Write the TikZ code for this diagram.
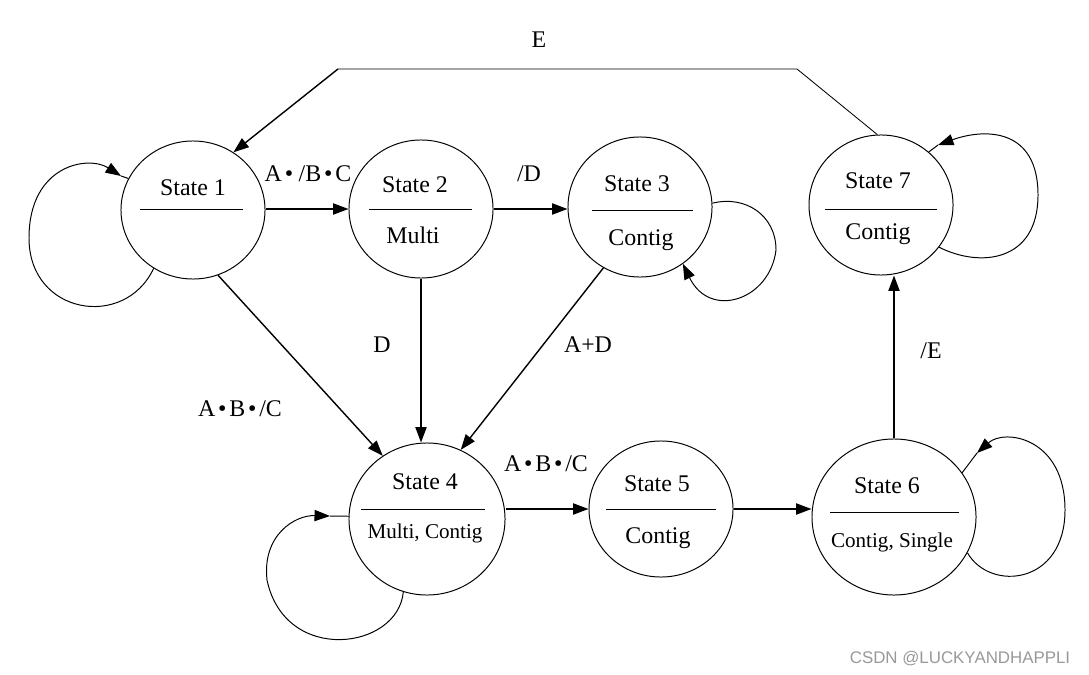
\documentclass[tikz,border=0pt]{standalone}
\usepackage{fontspec}
\setmainfont{Liberation Serif}
\newfontfamily\wmfont{Liberation Sans}
\usetikzlibrary{shapes.geometric,arrows.meta}

\newcommand{\bul}{\kern2pt•\kern2pt}

\begin{document}
\begin{tikzpicture}[x=0.025cm, y=-0.025cm, line join=round,
    >={Triangle[length=11pt,width=8pt]},
    stnode/.style={ellipse, draw, line width=0.7pt, inner sep=0pt},
    sttext/.style={anchor=base, inner sep=0pt, font=\fontsize{17}{20}\selectfont},
    stsmall/.style={anchor=base, inner sep=0pt, font=\fontsize{15}{18}\selectfont},
    edgelbl/.style={anchor=base, inner sep=0pt, font=\fontsize{17}{20}\selectfont},
    arr/.style={->, line width=1pt},
    loopline/.style={line width=0.7pt}]
    \useasboundingbox (0,0) rectangle (1089,675);

    % States
    \node[stnode, minimum width=3.6cm, minimum height=3.45cm] (s1) at (193,210) {};
    \node[stnode, minimum width=3.6cm, minimum height=3.45cm] (s2) at (421,209) {};
    \node[stnode, minimum width=3.6cm, minimum height=3.5cm] (s3) at (640,207) {};
    \node[stnode, minimum width=3.6cm, minimum height=3.5cm] (s7) at (881,205) {};
    \node[stnode, minimum width=3.9cm, minimum height=3.8cm] (s4) at (427,519) {};
    \node[stnode, minimum width=3.6cm, minimum height=3.4cm] (s5) at (661,509) {};
    \node[stnode, minimum width=4.1cm, minimum height=3.9cm] (s6) at (894,517) {};

    % Texts and dividers inside the states
    \node[sttext] (t1) at (193,196) {State 1};
    \draw[line width=0.7pt] (140,209) -- (243,209);

    \node[sttext] (t2) at (415,193) {State 2};
    \draw[line width=0.7pt] (369,209) -- (472,209);
    \node[sttext] (b2) at (413,244) {Multi};

    \node[sttext] (t3) at (637,192) {State 3};
    \draw[line width=0.7pt] (592,210) -- (693,210);
    \node[sttext] (b3) at (641,245) {Contig};

    \node[sttext] (t7) at (878,189) {State 7};
    \draw[line width=0.7pt] (825,209) -- (937,209);
    \node[sttext] (b7) at (878,240) {Contig};

    \node[sttext] (t4) at (425,489) {State 4};
    \draw[line width=0.7pt] (361,509) -- (485,509);
    \node[stsmall] (b4) at (425,538) {Multi, Contig};

    \node[sttext] (t5) at (657,491) {State 5};
    \draw[line width=0.7pt] (606,509) -- (716,509);
    \node[sttext] (b5) at (658,543) {Contig};

    \node[sttext] (t6) at (887,493) {State 6};
    \draw[line width=0.7pt] (830,512) -- (959,512);
    \node[stsmall] (b6) at (892,547) {Contig, Single};

    % Transitions between states
    \draw[arr] (s1.east |- s2.west) -- (s2.west);
    \draw[arr] (s2.east) -- (s2.east -| s3.west);
    \draw[arr] (s2.south) -- (s2.south |- s4.north);
    \draw[arr] (s1.-69) -- (s4.125);
    \draw[arr] (s3.239) -- (s4.64);
    \draw[arr] (s5.west -| s4.east) -- (s5.west);
    \draw[arr] (s5.east) -- (s5.east -| s6.west);
    \draw[arr] (s6.north) -- (s6.north |- s7.south);

    % E: back from State 7 to State 1 over the top
    \coordinate (eR) at (797,69);
    \coordinate (eL) at (338,69);
    \draw[line width=0.6pt] (s7.93) -- (eR) -- (eL);
    \draw[arr] (eL) -- (s1.55);

    % Self loops (arrow tip a little before the circle)
    \coordinate (l1) at (121,176);
    \coordinate (l7) at (938,145);
    \coordinate (l4) at (330,516);
    \coordinate (l6) at (977,453);
    \draw[->, loopline] (s1.236) .. controls (125,330) and (29,315) .. (29,238)
        .. controls (29,165) and (88,155) .. (l1);
    \draw[loopline] (l1) -- (s1.154);
    \draw[->, loopline] (s3.3) .. controls (745,195) and (776,215) .. (776,250)
        .. controls (770,300) and (710,320) .. (s3.307);
    \draw[->, loopline] (s7.324) .. controls (980,268) and (1038,262) .. (1038,195)
        .. controls (1038,128) and (985,128) .. (l7);
    \draw[loopline] (l7) -- (s7.48);
    \draw[->, loopline] (s4.252) .. controls (398,650) and (285,665) .. (267,580)
        .. controls (262,535) and (295,515) .. (l4);
    \draw[loopline] (l4) -- (s4.178);
    \draw[->, loopline] (s6.334) .. controls (990,592) and (1065,585) .. (1065,510)
        .. controls (1065,438) and (1005,428) .. (l6);
    \draw[loopline] (l6) -- (s6.33);

    % Edge labels
    \node[edgelbl] (l12) at (308,182) {A\bul\kern2pt/B\bul C};
    \node[edgelbl] (l23) at (529,182) {/D};
    \node[edgelbl] (l24) at (382,352) {D};
    \node[edgelbl] (l14) at (240,416) {A\bul B\bul/C};
    \node[edgelbl] (l34) at (588,352) {A+D};
    \node[edgelbl] (l45) at (546,471) {A\bul B\bul/C};
    \node[edgelbl] (l67) at (931,358) {/E};
    \node[edgelbl] (l71) at (539,48) {E};

    % Watermark
    \node[anchor=base, inner sep=0pt, text=black!40, font=\wmfont\fontsize{12}{14}\selectfont] (wm) at (960,663) {CSDN @LUCKYANDHAPPLI};
\end{tikzpicture}
\end{document}
